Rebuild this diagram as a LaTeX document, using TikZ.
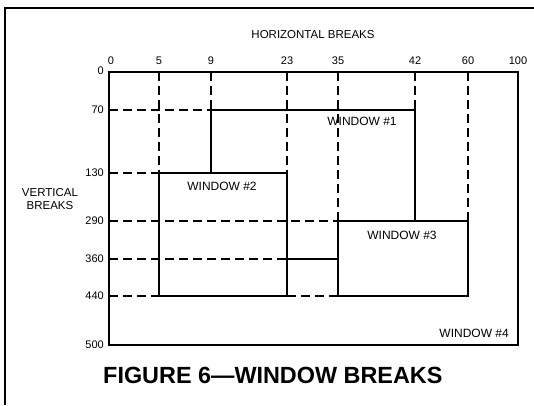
\documentclass[tikz,border=0pt]{standalone}
\usepackage{fontspec}
\setmainfont{Liberation Sans}
\begin{document}
\begin{tikzpicture}[x=1pt,y=-1pt,
  solidline/.style={line width=1.7pt,line cap=rect},
  dashline/.style={line width=1.1pt,dash pattern=on 9pt off 5pt},
  framestyle/.style={line width=1.8pt},
  numlab/.style={font=\fontsize{11}{13}\selectfont,inner sep=0pt},
  axlab/.style={font=\fontsize{11.5}{12.5}\selectfont,inner sep=0pt,align=center},
  winlab/.style={font=\fontsize{12}{14}\selectfont,inner sep=0pt},
  titlelab/.style={font=\fontsize{23.4}{28}\selectfont\bfseries,inner sep=0pt}]
\useasboundingbox (0,0) rectangle (534,405);
% grid coordinates
\def\Xa{109}\def\Xb{159}\def\Xc{211}\def\Xd{287}\def\Xe{338}\def\Xf{415}\def\Xg{468}\def\Xh{518}
\def\Ya{72}\def\Yb{110}\def\Yc{173}\def\Yd{221}\def\Ye{259}\def\Yf{296}\def\Yg{345}
% outer frame
\coordinate (fb) at (5,405);
\coordinate (fc) at (5,8);
\coordinate (fr) at (534,8);
\draw[framestyle] (fb) -- (fc) -- (fr);
% dashed break lines
\draw[dashline] (\Xa,\Yb) -- (\Xc,\Yb);
\draw[dashline] (\Xa,\Yc) -- (\Xb,\Yc);
\draw[dashline] (\Xa,\Yd) -- (\Xe,\Yd);
\draw[dashline] (\Xa,\Ye) -- (\Xd,\Ye);
\draw[dashline] (\Xa,\Yf) -- (\Xb,\Yf);
\draw[dashline] (\Xd,\Yf) -- (\Xe,\Yf);
\draw[dashline] (\Xb,\Ya) -- (\Xb,\Yc);
\draw[dashline] (\Xc,\Ya) -- (\Xc,\Yb);
\draw[dashline] (\Xd,\Ya) -- (\Xd,\Yc);
\draw[dashline] (\Xe,\Ya) -- (\Xe,\Yd);
\draw[dashline] (\Xf,\Ya) -- (\Xf,\Yb);
\draw[dashline] (\Xg,\Ya) -- (\Xg,\Yd);
% windows
\draw[solidline] (\Xa,\Ya) rectangle (\Xh,\Yg);
\draw[solidline] (\Xc,\Yc) -- (\Xc,\Yb) -- (\Xf,\Yb) -- (\Xf,\Yd);
\draw[solidline] (\Xb,\Yc) rectangle (\Xd,\Yf);
\draw[solidline] (\Xe,\Yd) rectangle (\Xg,\Yf);
\draw[solidline] (\Xd,\Ye) -- (\Xe,\Ye);
% top labels
\node[numlab,anchor=base] (h0) at (111,64) {0};
\node[numlab,anchor=base] (h5) at (\Xb,64) {5};
\node[numlab,anchor=base] (h9) at (\Xc,64) {9};
\node[numlab,anchor=base] (h23) at (\Xd,64) {23};
\node[numlab,anchor=base] (h35) at (\Xe,64) {35};
\node[numlab,anchor=base] (h42) at (\Xf,64) {42};
\node[numlab,anchor=base] (h60) at (\Xg,64) {60};
\node[numlab,anchor=base] (h100) at (\Xh,64) {100};
% left labels
\node[numlab,anchor=east] (v0) at (104,71) {0};
\node[numlab,anchor=east] (v70) at (104,\Yb) {70};
\node[numlab,anchor=east] (v130) at (104,\Yc) {130};
\node[numlab,anchor=east] (v290) at (104,\Yd) {290};
\node[numlab,anchor=east] (v360) at (104,\Ye) {360};
\node[numlab,anchor=east] (v440) at (104,\Yf) {440};
\node[numlab,anchor=east] (v500) at (104,\Yg) {500};
% axis titles
\node[axlab] (hb) at (313,35) {HORIZONTAL BREAKS};
\node[axlab] (vb) at (50,199) {VERTICAL\\BREAKS};
% window labels
\node[winlab] (w1) at (362,121) {WINDOW \#1};
\node[winlab] (w2) at (222,186) {WINDOW \#2};
\node[winlab] (w3) at (402,235) {WINDOW \#3};
\node[winlab,anchor=east] (w4) at (509,333) {WINDOW \#4};
% title
\node[titlelab,anchor=base west] (title) at (103,383) {FIGURE 6—WINDOW BREAKS};
\end{tikzpicture}
\end{document}
